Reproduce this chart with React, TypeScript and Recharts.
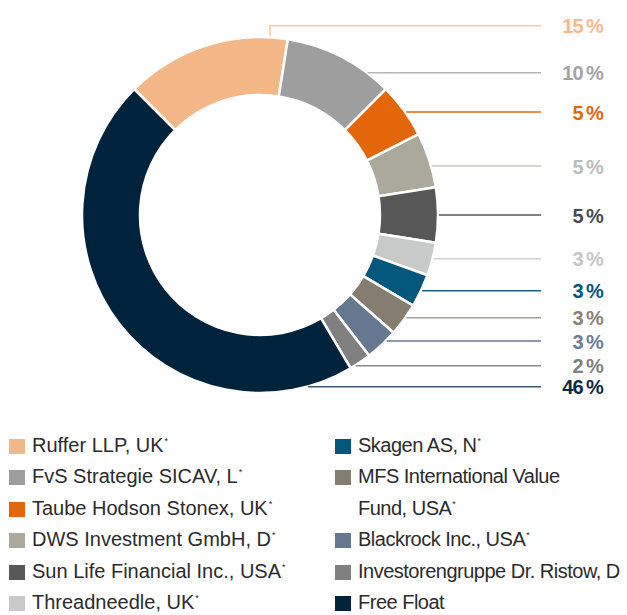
// shareholder structure donut: right-hand percent callouts, two column legend below
import * as React from 'react';
import { PieChart, Pie, Cell } from 'recharts';

const HOLDERS = [
  'Ruffer LLP, UK*',
  'FvS Strategie SICAV, L*',
  'Taube Hodson Stonex, UK*',
  'DWS Investment GmbH, D*',
  'Sun Life Financial Inc., USA*',
  'Threadneedle, UK*',
  'Skagen AS, N*',
  'MFS International Value\nFund, USA*',
  'Blackrock Inc., USA*',
  'Investorengruppe Dr. Ristow, D',
  'Free Float',
];
const SHARES = [15, 10, 5, 5, 5, 3, 3, 3, 3, 2, 46];

const COLORS = [
  '#f4b788', '#9d9e9d', '#e3670a', '#aba89c', '#575757', '#c8cac9',
  '#02577c', '#857d70', '#66788f', '#808080', '#00233d',
];
const TEXT_COLORS = [
  '#f5b98c', '#a3a3a3', '#e3670a', '#bcbcbc', '#4a4a4a', '#c6c6c6',
  '#02577c', '#8a8275', '#6b7d94', '#808080', '#0c2a44',
];
const LINE_COLORS = [
  '#f7c9a3', '#b4b4b4', '#e3670a', '#c9c6bc', '#575757', '#d2d2d2',
  '#1d6186', '#a69f93', '#66788f', '#8c8c8c', '#405a76',
];

// callout rows (chart y) picked to match the printed layout
const LABEL_Y = [25.7, 72.7, 112, 166, 215, 258.7, 290.7, 317.7, 341, 365.7, 386.7];
const LINE_END = 541;
const TEXT_RIGHT = 603;

const data = HOLDERS.map((name, i) => ({ name, share: SHARES[i] }));

function Callout(props: any) {
  const { cx, cy, outerRadius, index, value } = props;
  const y = LABEL_Y[index];
  const dy = y - cy;
  let d: string;
  if (Math.abs(dy) < outerRadius) {
    const x0 = cx + Math.sqrt(outerRadius * outerRadius - dy * dy) + 1;
    d = `M${x0},${y}H${LINE_END}`;
  } else {
    const ex = cx + 10;
    const ey = cy - Math.sqrt(outerRadius * outerRadius - 100) - 1;
    d = `M${ex},${ey}V${y}H${LINE_END}`;
  }
  return (
    <g key={`callout-${index}`}>
      <path d={d} stroke={LINE_COLORS[index]} strokeWidth={1.5} fill="none" />
      <text
        x={TEXT_RIGHT}
        y={y}
        dy={7.5}
        textAnchor="end"
        fill={TEXT_COLORS[index]}
        fontFamily="'Liberation Sans', Arial, sans-serif"
        fontWeight="bold"
        fontSize={20}
        letterSpacing={-0.8}
      >
        {`${value}\u2009%`}
      </text>
    </g>
  );
}

function LegendItem(props: { name: string; color: string }) {
  const star = props.name.endsWith('*');
  const label = star ? props.name.slice(0, -1) : props.name;
  return (
    <div style={{ position: 'relative', paddingLeft: 23, whiteSpace: 'pre-line' }}>
      <span
        style={{
          position: 'absolute',
          left: 0,
          top: 9.3,
          width: 16,
          height: 15,
          background: props.color,
        }}
      />
      {label}
      {star && (
        <span
          style={{ fontSize: 9, lineHeight: 0, position: 'relative', top: -8, marginLeft: 1 }}
        >
          *
        </span>
      )}
    </div>
  );
}

const legendCol: React.CSSProperties = {
  position: 'absolute',
  top: 429.7,
  fontSize: 20,
  lineHeight: '31.5px',
  color: '#2b2b2b',
  whiteSpace: 'nowrap',
};

export default function App() {
  const left = data.slice(0, 6);
  const right = data.slice(6);
  return (
    <div
      style={{
        position: 'absolute',
        left: 0,
        top: 0,
        width: 627,
        height: 615,
        overflow: 'hidden',
        background: '#fff',
        fontFamily: "'Liberation Sans', Arial, sans-serif",
      }}
    >
      <PieChart width={627} height={420} margin={{ top: 0, right: 0, bottom: 0, left: 0 }}>
        <Pie
          data={data}
          dataKey="share"
          nameKey="name"
          cx={260}
          cy={215}
          innerRadius={120}
          outerRadius={178}
          startAngle={135}
          endAngle={-225}
          stroke="#fff"
          strokeWidth={2.5}
          isAnimationActive={false}
          labelLine={false}
          label={Callout}
        >
          {data.map((_, index) => (
            <Cell key={`cell-${index}`} fill={COLORS[index]} />
          ))}
        </Pie>
      </PieChart>
      <div style={{ ...legendCol, left: 9, width: 310 }}>
        {left.map((d, i) => (
          <LegendItem key={d.name} name={d.name} color={COLORS[i]} />
        ))}
      </div>
      <div style={{ ...legendCol, left: 335, width: 292, letterSpacing: -0.5 }}>
        {right.map((d, i) => (
          <LegendItem key={d.name} name={d.name} color={COLORS[i + 6]} />
        ))}
      </div>
    </div>
  );
}
